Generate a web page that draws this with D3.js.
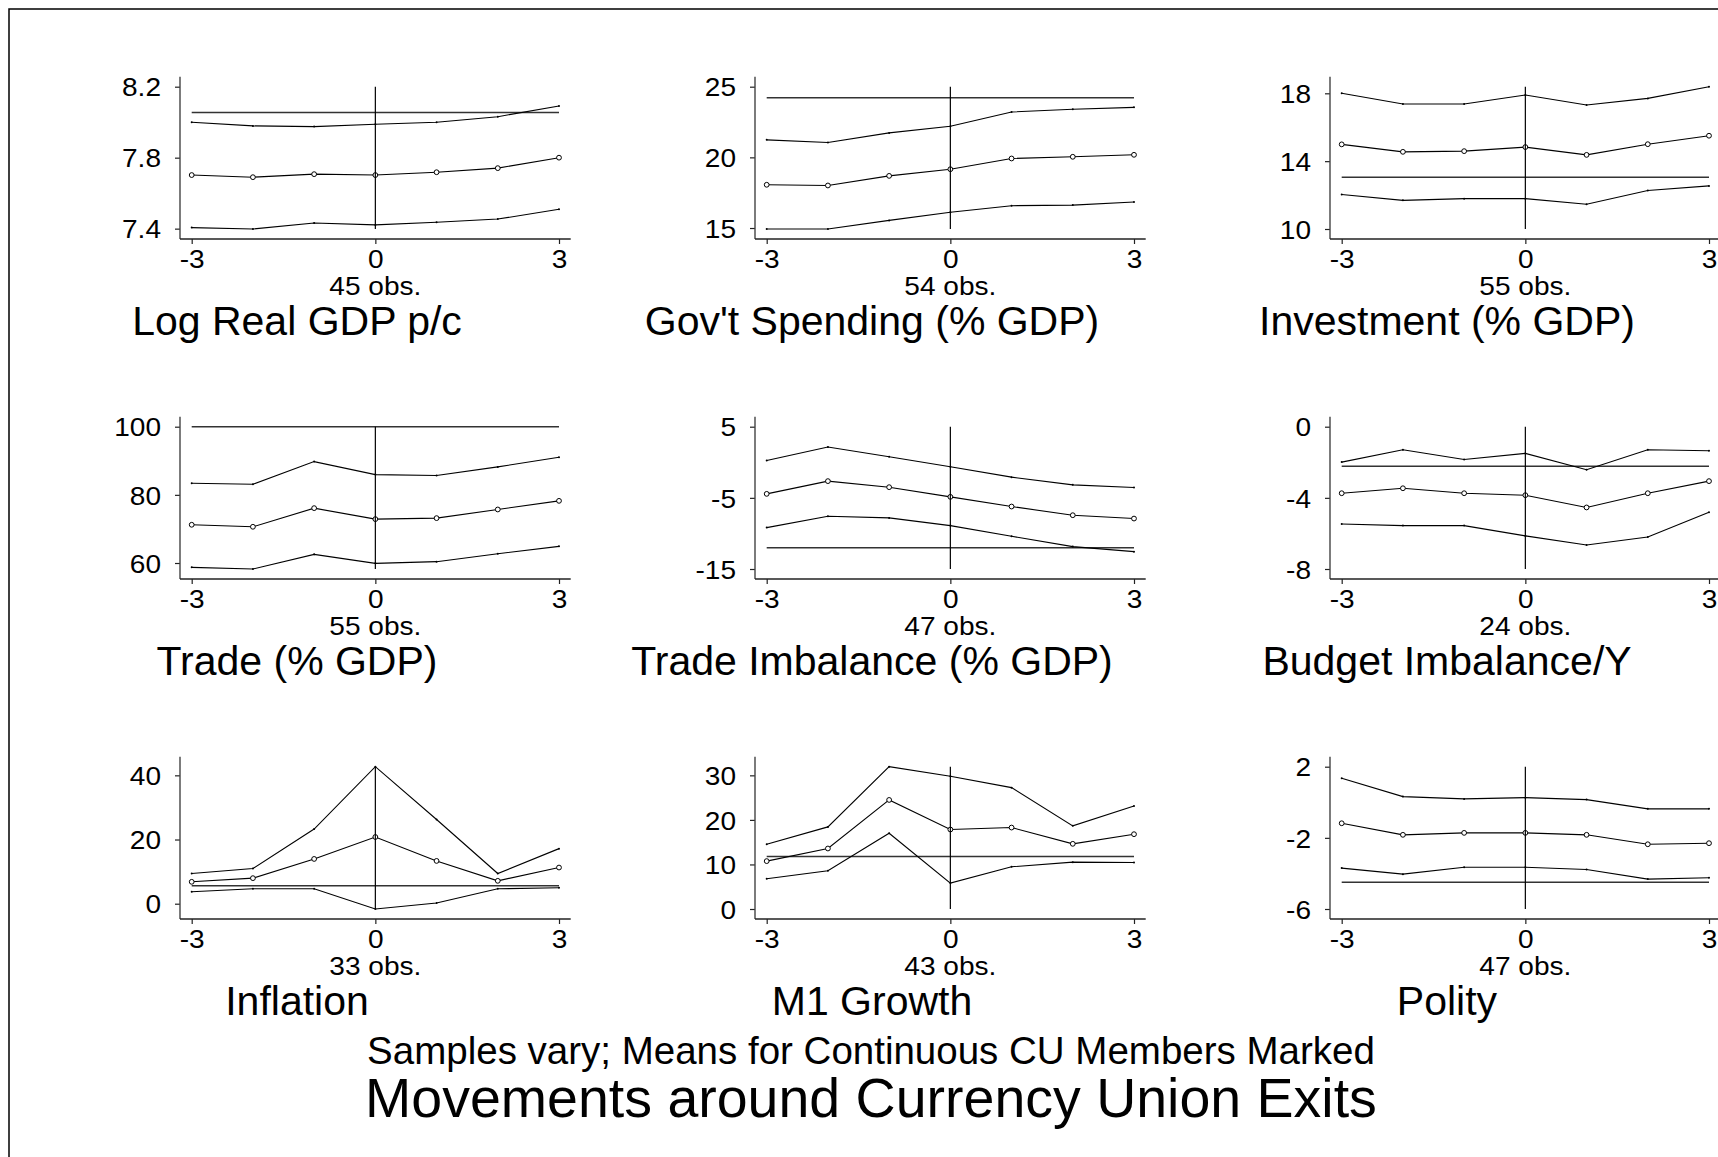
<!DOCTYPE html>
<html>
<head>
<meta charset="utf-8">
<script src="https://cdn.jsdelivr.net/npm/d3@7"></script>
<style>
  body { margin: 0; background: #fff; }
  svg { display: block; }
  text { font-family: "Liberation Sans", Arial, Helvetica, sans-serif; fill: #000; }
</style>
</head>
<body>
<div id="chart"></div>
<script>
// event time around the exit
const years = [-3, -2, -1, 0, 1, 2, 3];
const xTicks = [-3, 0, 3];

const titles = ['Log Real GDP p/c', "Gov't Spending (% GDP)", 'Investment (% GDP)',
  'Trade (% GDP)', 'Trade Imbalance (% GDP)', 'Budget Imbalance/Y',
  'Inflation', 'M1 Growth', 'Polity'];
const obsCounts = [45, 54, 55, 55, 47, 24, 33, 43, 47];
const yTickVals = [[7.4, 7.8, 8.2], [15, 20, 25], [10, 14, 18],
  [60, 80, 100], [-15, -5, 5], [-8, -4, 0],
  [0, 20, 40], [0, 10, 20, 30], [-6, -2, 2]];
// means for continuous CU members (flat line)
const cuMeans = [8.054, 24.22, 13.05, 100, -12.0, -2.22, 5.58, 11.79, -4.50];

// upper band, mean, lower band
const gdpHi = [8.00, 7.979, 7.975, 7.988, 8.00, 8.031, 8.091];
const gdpMean = [7.702, 7.690, 7.707, 7.702, 7.718, 7.741, 7.80];
const gdpLo = [7.406, 7.398, 7.432, 7.421, 7.436, 7.454, 7.509];

const govHi = [21.24, 21.05, 21.73, 22.2, 23.21, 23.4, 23.54];
const govMean = [18.06, 18.01, 18.69, 19.16, 19.92, 20.04, 20.18];
const govLo = [14.93, 14.93, 15.54, 16.11, 16.58, 16.62, 16.84];

const invHi = [18.0, 17.37, 17.37, 17.9, 17.31, 17.7, 18.39];
const invMean = [14.99, 14.55, 14.59, 14.83, 14.37, 15.0, 15.5];
const invLo = [12.03, 11.69, 11.79, 11.79, 11.46, 12.27, 12.54];

const tradeHi = [83.41, 83.12, 89.76, 85.95, 85.66, 88.2, 91.02];
const tradeMean = [71.22, 70.63, 76.1, 72.88, 73.17, 75.71, 78.24];
const tradeLo = [58.73, 58.24, 62.54, 59.9, 60.39, 62.73, 64.88];

const tbalHi = [0.26, 2.14, 0.78, -0.63, -2.09, -3.17, -3.55];
const tbalMean = [-4.44, -2.65, -3.50, -4.86, -6.22, -7.44, -7.91];
const tbalLo = [-9.18, -7.58, -7.82, -8.90, -10.40, -11.85, -12.56];

const budHi = [-1.99, -1.30, -1.84, -1.50, -2.42, -1.30, -1.35];
const budMean = [-3.74, -3.46, -3.74, -3.85, -4.54, -3.74, -3.06];
const budLo = [-5.47, -5.56, -5.56, -6.14, -6.65, -6.20, -4.81];

const infHi = [9.41, 10.96, 23.26, 42.69, 26.25, 9.41, 17.16];
const infMean = [6.82, 7.96, 13.95, 20.78, 13.33, 7.13, 11.27];
const infLo = [3.72, 4.65, 4.65, -1.65, 0.21, 4.65, 4.96];

const m1Hi = [14.55, 18.43, 31.94, 29.78, 27.24, 18.66, 23.13];
const m1Mean = [10.75, 13.58, 24.48, 17.84, 18.28, 14.63, 16.79];
const m1Lo = [6.79, 8.58, 17.01, 5.82, 9.48, 10.52, 10.45];

const polHi = [1.35, 0.32, 0.19, 0.26, 0.15, -0.37, -0.37];
const polMean = [-1.18, -1.83, -1.72, -1.72, -1.83, -2.36, -2.30];
const polLo = [-3.70, -4.04, -3.65, -3.65, -3.78, -4.32, -4.24];

const his = [gdpHi, govHi, invHi, tradeHi, tbalHi, budHi, infHi, m1Hi, polHi];
const means = [gdpMean, govMean, invMean, tradeMean, tbalMean, budMean, infMean, m1Mean, polMean];
const los = [gdpLo, govLo, invLo, tradeLo, tbalLo, budLo, infLo, m1Lo, polLo];

const width = 1718, height = 1157;
const colStep = 575, rowStep = 340;
const stretch = 1.1;   // small labels are a bit wider than plain Arial

const svg = d3.select('#chart').append('svg')
  .attr('width', width)
  .attr('height', height);

svg.append('rect').attr('width', width).attr('height', height).attr('fill', '#fff');

// outer frame (cut off on the right and bottom)
svg.append('rect')
  .attr('x', 9).attr('y', 9)
  .attr('width', 1800).attr('height', 1400)
  .attr('fill', 'none').attr('stroke', '#000').attr('stroke-width', 1.5);

function stretchText(sel) {
  // widen text horizontally around its own anchor
  sel.each(function () {
    const t = d3.select(this);
    const x = +t.attr('x') || 0;
    t.attr('x', x / stretch).attr('transform', 'scale(' + stretch + ',1)');
  });
}

titles.forEach((title, i) => {
  const col = i % 3, row = Math.floor(i / 3);
  const axisX = 180 + col * colStep;
  const plotTop = 86.7 + row * rowStep;
  const plotBot = 229 + row * rowStep;
  const axisY = plotBot + 10;

  const hi = his[i], mean = means[i], lo = los[i], ref = cuMeans[i];
  const ticks = yTickVals[i];

  const x = d3.scaleLinear().domain([-3, 3]).range([axisX + 11.7, axisX + 379]);
  const yMin = d3.min([...ticks, ...lo, ref]);
  const yMax = d3.max([...ticks, ...hi, ref]);
  const y = d3.scaleLinear().domain([yMin, yMax]).range([plotBot, plotTop]);

  const g = svg.append('g');

  // y axis
  const yAxis = g.append('g')
    .attr('transform', 'translate(' + axisX + ',0)')
    .call(d3.axisLeft(y).tickValues(ticks).tickSize(5).tickSizeOuter(0).tickPadding(14)
      .tickFormat(d => String(d)));
  yAxis.select('.domain').remove();
  yAxis.selectAll('line').attr('stroke', '#222').attr('stroke-width', 1.2);
  yAxis.selectAll('text').attr('font-size', 25.5).attr('dy', '0.36em')
    .attr('font-family', '"Liberation Sans", Arial, sans-serif')
    .call(stretchText);
  g.append('line')
    .attr('x1', axisX).attr('x2', axisX)
    .attr('y1', plotTop - 10).attr('y2', axisY)
    .attr('stroke', '#444').attr('stroke-width', 1.4);

  // x axis
  const xAxis = g.append('g')
    .attr('transform', 'translate(0,' + axisY + ')')
    .call(d3.axisBottom(x).tickValues(xTicks).tickSize(5).tickSizeOuter(0).tickPadding(6)
      .tickFormat(d => String(d)));
  xAxis.select('.domain').remove();
  xAxis.selectAll('line').attr('stroke', '#222').attr('stroke-width', 1.2);
  xAxis.selectAll('text').attr('font-size', 25.5).attr('dy', '0.71em')
    .attr('font-family', '"Liberation Sans", Arial, sans-serif')
    .call(stretchText);
  g.append('line')
    .attr('x1', axisX).attr('x2', x(3) + 11.7)
    .attr('y1', axisY).attr('y2', axisY)
    .attr('stroke', '#222').attr('stroke-width', 1.4);

  // obs count under the axis
  g.append('text')
    .attr('transform', 'translate(' + x(0) + ',' + (axisY + 56) + ') scale(' + stretch + ',1)')
    .attr('text-anchor', 'middle')
    .attr('font-size', 25.5)
    .text(obsCounts[i] + ' obs.');

  // panel title
  g.append('text')
    .attr('x', axisX + 117)
    .attr('y', 335 + row * rowStep)
    .attr('text-anchor', 'middle')
    .attr('font-size', 41)
    .text(title);

  // flat line: mean for continuous CU members
  g.append('line')
    .attr('x1', x(-3)).attr('x2', x(3))
    .attr('y1', y(ref)).attr('y2', y(ref))
    .attr('stroke', '#333').attr('stroke-width', 1.5);

  const line = d3.line().x((d, k) => x(years[k])).y(d => y(d));

  [hi, lo].forEach(band => {
    g.append('path')
      .datum(band)
      .attr('d', line)
      .attr('fill', 'none')
      .attr('stroke', '#000')
      .attr('stroke-width', 1.1);
    g.selectAll(null)
      .data(band)
      .enter().append('circle')
        .attr('cx', (d, k) => x(years[k]))
        .attr('cy', d => y(d))
        .attr('r', 1)
        .attr('fill', '#000');
  });

  g.append('path')
    .datum(mean)
    .attr('d', line)
    .attr('fill', 'none')
    .attr('stroke', '#000')
    .attr('stroke-width', 1.1);
  g.selectAll(null)
    .data(mean)
    .enter().append('circle')
      .attr('cx', (d, k) => x(years[k]))
      .attr('cy', d => y(d))
      .attr('r', 2.4)
      .attr('fill', '#fff')
      .attr('stroke', '#000')
      .attr('stroke-width', 1);

  // exit year
  g.append('line')
    .attr('x1', x(0)).attr('x2', x(0))
    .attr('y1', plotTop).attr('y2', plotBot)
    .attr('stroke', '#000').attr('stroke-width', 1.2);
});

svg.append('text')
  .attr('x', 871).attr('y', 1064)
  .attr('text-anchor', 'middle')
  .attr('font-size', 38.5)
  .text('Samples vary; Means for Continuous CU Members Marked');

svg.append('text')
  .attr('x', 871).attr('y', 1117)
  .attr('text-anchor', 'middle')
  .attr('font-size', 55.5)
  .text('Movements around Currency Union Exits');
</script>
</body>
</html>
